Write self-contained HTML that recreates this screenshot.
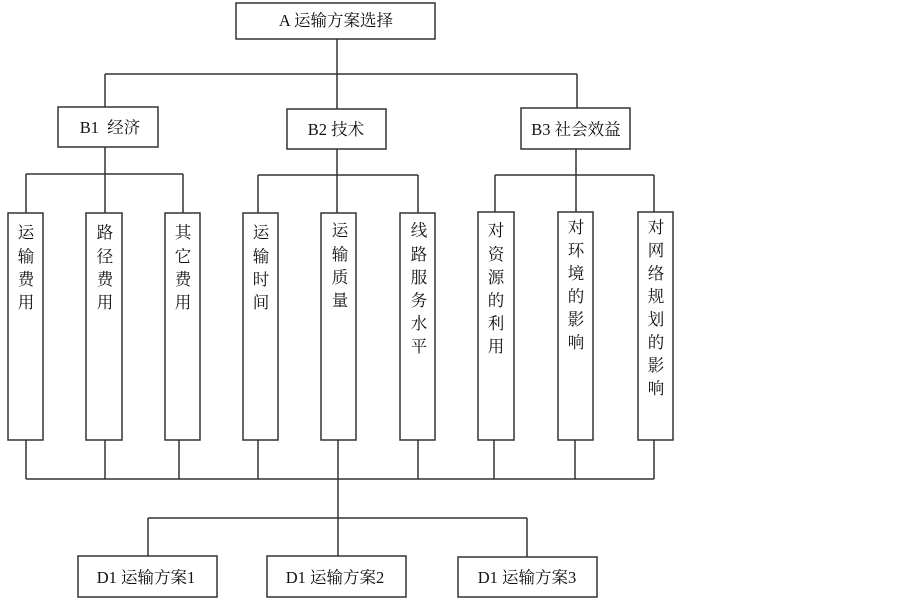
<!DOCTYPE html>
<html><head><meta charset="utf-8"><style>
html,body{margin:0;padding:0;background:#fff;}
svg{display:block;}
text{font-family:"Liberation Serif","Noto Serif CJK SC",serif;font-size:16.5px;fill:#111;}
</style></head><body>
<svg width="903" height="604" viewBox="0 0 903 604" xmlns="http://www.w3.org/2000/svg">
<g stroke="#333" stroke-width="1.5" fill="none">
<rect x="236" y="3" width="199" height="36" fill="#fff"/>
<line x1="337" y1="39" x2="337" y2="109"/>
<line x1="105" y1="74" x2="577" y2="74"/>
<line x1="105" y1="74" x2="105" y2="107"/>
<line x1="577" y1="74" x2="577" y2="108"/>
<rect x="58" y="107" width="100" height="40" fill="#fff"/>
<rect x="287" y="109" width="99" height="40" fill="#fff"/>
<rect x="521" y="108" width="109" height="41" fill="#fff"/>
<line x1="105" y1="147" x2="105" y2="213"/>
<line x1="26" y1="174" x2="183" y2="174"/>
<line x1="26" y1="174" x2="26" y2="213"/>
<line x1="183" y1="174" x2="183" y2="213"/>
<line x1="337" y1="149" x2="337" y2="213"/>
<line x1="258" y1="175" x2="418" y2="175"/>
<line x1="258" y1="175" x2="258" y2="213"/>
<line x1="418" y1="175" x2="418" y2="213"/>
<line x1="576" y1="149" x2="576" y2="213"/>
<line x1="495" y1="175" x2="654" y2="175"/>
<line x1="495" y1="175" x2="495" y2="213"/>
<line x1="654" y1="175" x2="654" y2="213"/>
<rect x="8" y="213" width="35" height="227" fill="#fff"/>
<rect x="86" y="213" width="36" height="227" fill="#fff"/>
<rect x="165" y="213" width="35" height="227" fill="#fff"/>
<rect x="243" y="213" width="35" height="227" fill="#fff"/>
<rect x="321" y="213" width="35" height="227" fill="#fff"/>
<rect x="400" y="213" width="35" height="227" fill="#fff"/>
<rect x="478" y="212" width="36" height="228" fill="#fff"/>
<rect x="558" y="212" width="35" height="228" fill="#fff"/>
<rect x="638" y="212" width="35" height="228" fill="#fff"/>
<line x1="26" y1="440" x2="26" y2="479"/>
<line x1="105" y1="440" x2="105" y2="479"/>
<line x1="179" y1="440" x2="179" y2="479"/>
<line x1="258" y1="440" x2="258" y2="479"/>
<line x1="338" y1="440" x2="338" y2="556"/>
<line x1="418" y1="440" x2="418" y2="479"/>
<line x1="494" y1="440" x2="494" y2="479"/>
<line x1="575" y1="440" x2="575" y2="479"/>
<line x1="654" y1="440" x2="654" y2="479"/>
<line x1="26" y1="479" x2="654" y2="479"/>
<line x1="148" y1="518" x2="527" y2="518"/>
<line x1="148" y1="518" x2="148" y2="556"/>
<line x1="527" y1="518" x2="527" y2="557"/>
<rect x="78" y="556" width="139" height="41" fill="#fff"/>
<rect x="267" y="556" width="139" height="41" fill="#fff"/>
<rect x="458" y="557" width="139" height="40" fill="#fff"/>
</g>
<g text-anchor="middle">
<text x="336" y="26">A 运输方案选择</text>
<text x="110" y="133">B1&#160; 经济</text>
<text x="336" y="135">B2 技术</text>
<text x="576" y="135">B3 社会效益</text>
<text x="146" y="583">D1 运输方案1</text>
<text x="335" y="583">D1 运输方案2</text>
<text x="527" y="583">D1 运输方案3</text>
</g>
<g text-anchor="middle" font-size="17">
<text x="26" y="238">运</text><text x="26" y="262">输</text><text x="26" y="285">费</text><text x="26" y="308">用</text>
<text x="105" y="238">路</text><text x="105" y="262">径</text><text x="105" y="285">费</text><text x="105" y="308">用</text>
<text x="183" y="238">其</text><text x="183" y="262">它</text><text x="183" y="285">费</text><text x="183" y="308">用</text>
<text x="261" y="238">运</text><text x="261" y="262">输</text><text x="261" y="285">时</text><text x="261" y="308">间</text>
<text x="340" y="236">运</text><text x="340" y="260">输</text><text x="340" y="283">质</text><text x="340" y="306">量</text>
<text x="419" y="236">线</text><text x="419" y="260">路</text><text x="419" y="283">服</text><text x="419" y="306">务</text><text x="419" y="329">水</text><text x="419" y="352">平</text>
<text x="496" y="236">对</text><text x="496" y="260">资</text><text x="496" y="283">源</text><text x="496" y="306">的</text><text x="496" y="329">利</text><text x="496" y="352">用</text>
<text x="576" y="233">对</text><text x="576" y="256">环</text><text x="576" y="279">境</text><text x="576" y="302">的</text><text x="576" y="325">影</text><text x="576" y="348">响</text>
<text x="656" y="233">对</text><text x="656" y="256">网</text><text x="656" y="279">络</text><text x="656" y="302">规</text><text x="656" y="325">划</text><text x="656" y="348">的</text><text x="656" y="371">影</text><text x="656" y="394">响</text>
</g>
</svg>
</body></html>
